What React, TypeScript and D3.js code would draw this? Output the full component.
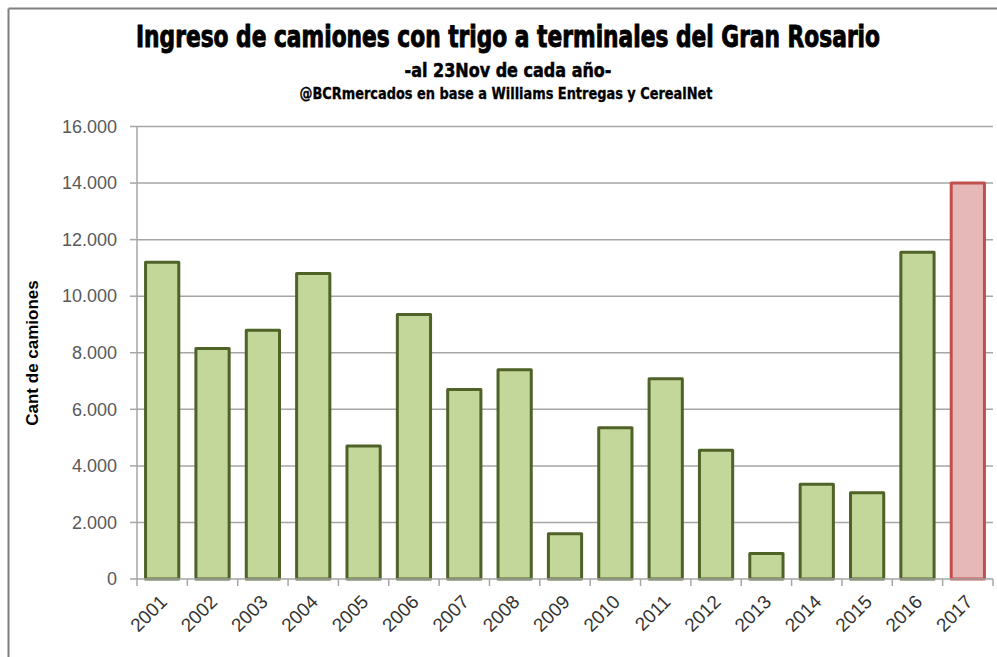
import React from "react";
import * as d3 from "d3";

const years = ["2001","2002","2003","2004","2005","2006","2007","2008","2009","2010","2011","2012","2013","2014","2015","2016","2017"];
const trucks = [11200, 8150, 8800, 10800, 4700, 9350, 6700, 7400, 1600, 5350, 7080, 4550, 900, 3350, 3050, 11550, 14000];
const highlightYear = "2017";
const yTicks = [0, 2000, 4000, 6000, 8000, 10000, 12000, 14000, 16000];

const title = "Ingreso de camiones con trigo a terminales del Gran Rosario";
const subtitle = "-al 23Nov de cada año-";
const source = "@BCRmercados en base a Williams Entregas y CerealNet";
const yLabel = "Cant de camiones";

const W = 997, H = 657;
const L = 137, R = 993, T = 126.5, B = 579;

const esFmt = d3.formatLocale({ decimal: ",", thousands: ".", grouping: [3], currency: ["$", ""] }).format(",");

export default function App() {
  const x = d3.scaleBand<string>().domain(years).range([L, R]).paddingInner(0.34).paddingOuter(0.17);
  const y = d3.scaleLinear().domain([0, 16000]).range([B, T]);
  const step = x.step();
  const boundaries = d3.range(years.length + 1).map(i => L + i * step);
  const condensed = "'Liberation Sans Narrow', 'DejaVu Sans Condensed', 'Liberation Sans', Arial, sans-serif";
  const body = "'Liberation Sans', Arial, sans-serif";
  return (
    <svg width={W} height={H} style={{ position: "absolute", left: 0, top: 0, background: "#fff" }}>
      <rect x={0} y={0} width={W} height={H} fill="#fff" />
      {/* frame */}
      <line x1={8.5} x2={W} y1={8.5} y2={8.5} stroke="#7f7f7f" strokeWidth={2} />
      <line x1={8.5} x2={8.5} y1={8.5} y2={H} stroke="#7f7f7f" strokeWidth={2} />
      {/* titles */}
      <g transform="translate(508,47) scale(1,1.25)">
        <text x={0} y={0} textAnchor="middle" fontFamily={condensed} fontWeight="bold" fontSize={24} textLength={744} lengthAdjust="spacingAndGlyphs" fill="#000" stroke="#000" strokeWidth={0.75}>{title}</text>
      </g>
      <text x={508} y={77} textAnchor="middle" fontFamily={condensed} fontWeight="bold" fontSize={20} textLength={207} lengthAdjust="spacingAndGlyphs" fill="#000" stroke="#000" strokeWidth={0.5}>{subtitle}</text>
      <text x={506} y={99} textAnchor="middle" fontFamily={condensed} fontWeight="bold" fontSize={15} textLength={413} lengthAdjust="spacingAndGlyphs" fill="#000" stroke="#000" strokeWidth={0.3}>{source}</text>
      {/* gridlines */}
      {yTicks.filter(t => t > 0).map(t => (
        <line key={"g" + t} x1={L} x2={R} y1={y(t)} y2={y(t)} stroke="#a6a6a6" strokeWidth={1.5} />
      ))}
      {/* y axis */}
      <line x1={L} x2={L} y1={T} y2={B} stroke="#a6a6a6" strokeWidth={1.5} />
      {yTicks.map(t => (
        <g key={"yt" + t}>
          <line x1={L - 7} x2={L} y1={y(t)} y2={y(t)} stroke="#a6a6a6" strokeWidth={1.5} />
          <text x={117} y={y(t)} dy="0.35em" textAnchor="end" fontFamily={body} fontSize={18} fill="#595959">{esFmt(t)}</text>
        </g>
      ))}
      <text transform={`translate(38,353) rotate(-90)`} textAnchor="middle" fontFamily={body} fontWeight="bold" fontSize={17} fill="#000">{yLabel}</text>
      {/* bars */}
      {years.map((yr, i) => {
        const hi = yr === highlightYear;
        return (
          <rect key={yr} x={x(yr)} y={y(trucks[i])} width={x.bandwidth()} height={B - y(trucks[i])}
            fill={hi ? "#e6b9b8" : "#c4d79b"} stroke={hi ? "#c0504d" : "#4f6228"} strokeWidth={3} strokeLinejoin="round" />
        );
      })}
      {/* x axis */}
      <line x1={L} x2={R} y1={B} y2={B} stroke="#a6a6a6" strokeWidth={1.5} />
      {boundaries.map((bx, i) => (
        <line key={"xt" + i} x1={bx} x2={bx} y1={B} y2={B + 7} stroke="#a6a6a6" strokeWidth={1.5} />
      ))}
      {years.map(yr => {
        const cx = (x(yr) as number) + x.bandwidth() / 2;
        return (
          <text key={"xl" + yr} transform={`translate(${cx + 6},${603}) rotate(-45)`} textAnchor="end" fontFamily={body} fontSize={19} fill="#333">{yr}</text>
        );
      })}
    </svg>
  );
}
